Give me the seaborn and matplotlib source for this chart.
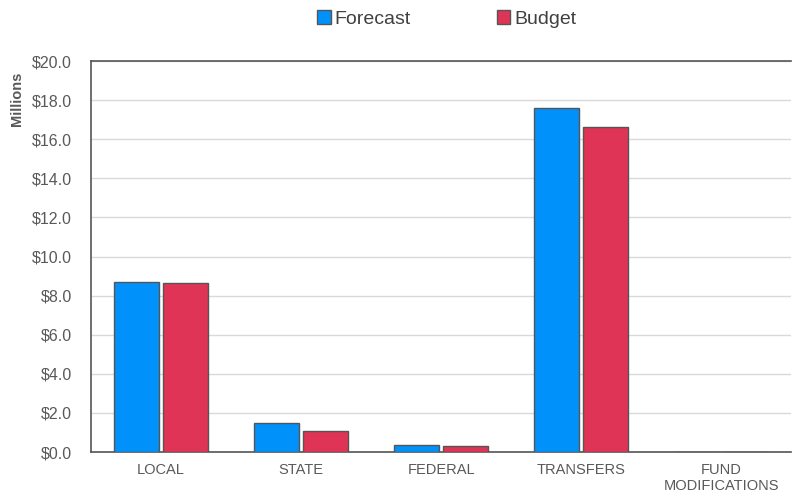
import matplotlib
matplotlib.use("Agg")
import matplotlib.pyplot as plt
import seaborn as sns
import pandas as pd

categories = ["LOCAL", "STATE", "FEDERAL", "TRANSFERS", "FUND\nMODIFICATIONS"]
forecast = [8.70, 1.48, 0.35, 17.62, 0.0]
budget = [8.62, 1.07, 0.30, 16.65, 0.0]
yticks = [0, 2, 4, 6, 8, 10, 12, 14, 16, 18, 20]

df = pd.DataFrame({
    "category": categories * 2,
    "value": forecast + budget,
    "series": ["Forecast"] * len(categories) + ["Budget"] * len(categories),
})

sns.set_style("white")
plt.rcParams["font.family"] = ["Liberation Sans", "DejaVu Sans"]

fig = plt.figure(figsize=(7.92, 4.94), dpi=100)
ax = fig.add_axes([0.115, 0.085, 0.884, 0.7915])

sns.barplot(data=df, x="category", y="value", hue="series",
            palette={"Forecast": "#0091FA", "Budget": "#E03457"},
            saturation=1, width=0.7, gap=0.08, edgecolor="#555555", linewidth=1.0,
            ax=ax, zorder=3, legend=True)

ax.set_ylim(0, 20)
ax.set_xlim(-0.5, 4.5)
ax.set_yticks(yticks)
ax.set_yticklabels([f"${v:.1f}" for v in yticks])
ax.yaxis.grid(True, color="#D9D9D9", linewidth=1.0, zorder=0)
ax.set_axisbelow(True)
ax.set_xlabel("")
ax.set_ylabel("")
ax.tick_params(axis="y", length=0, labelsize=11.5, labelcolor="#595959", pad=14)
ax.tick_params(axis="x", length=0, labelsize=10.5, labelcolor="#595959", pad=8)
for s in ["left", "bottom", "top"]:
    ax.spines[s].set_color("#555555")
    ax.spines[s].set_linewidth(1.2)
ax.spines["right"].set_visible(False)

leg = ax.legend(loc="upper center", bbox_to_anchor=(0.5 + 0.008, 1.175), ncol=2,
                frameon=False, fontsize=14, handlelength=0.7, handleheight=0.7,
                handletextpad=0.2, columnspacing=4.4, labelcolor="#404040")

fig.text(0.022, 0.80, "Millions", rotation=90, ha="center", va="center",
         fontsize=10.5, fontweight="bold", color="#595959")

fig.savefig("out.png", dpi=100)
